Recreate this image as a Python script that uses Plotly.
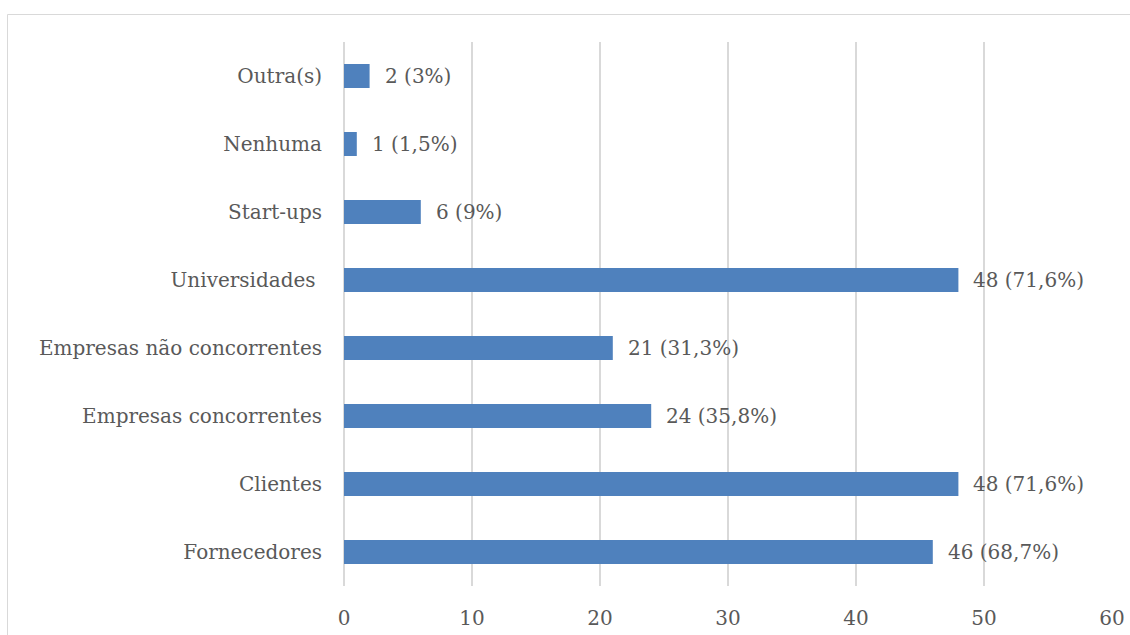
import plotly.graph_objects as go

# Survey answers: partners for cooperation (count of respondents)
categories = [
    "Fornecedores",
    "Clientes",
    "Empresas concorrentes",
    "Empresas não concorrentes",
    "Universidades\u00a0",
    "Start-ups",
    "Nenhuma",
    "Outra(s)",
]
counts = [46, 48, 24, 21, 48, 6, 1, 2]
percents = ["68,7%", "71,6%", "35,8%", "31,3%", "71,6%", "9%", "1,5%", "3%"]
x_ticks = [0, 10, 20, 30, 40, 50, 60]

FONT = "DejaVu Serif"
FSIZE = 20
TEXT = "#595959"
GRID = "#D9D9D9"
BAR = "#4F81BD"

W, H = 1130, 635
L, R, T, B = 344, 18, 42, 49
pw, ph = W - L - R, H - T - B

fig = go.Figure()
fig.add_trace(go.Bar(
    y=categories,
    x=counts,
    orientation="h",
    marker=dict(color=BAR, line=dict(width=0)),
    hoverinfo="x+y",
))

# value labels to the right of each bar
for cat, n, p in zip(categories, counts, percents):
    fig.add_annotation(
        x=n, y=cat, xref="x", yref="y",
        text=f"{n} ({p})",
        showarrow=False, xanchor="left", yanchor="middle",
        xshift=13,
        font=dict(family=FONT, size=FSIZE, color=TEXT),
    )

# light frame around the chart
def px_x(p):
    return (p - L) / pw

def px_y(p):
    return (H - B - p) / ph

fig.add_shape(
    type="rect", xref="paper", yref="paper",
    x0=px_x(7.5), x1=px_x(1150), y0=px_y(660), y1=px_y(14.5),
    line=dict(color=GRID, width=1), fillcolor="rgba(0,0,0,0)", layer="below",
)

fig.update_layout(
    width=W, height=H,
    margin=dict(l=L, r=R, t=T, b=B, pad=0, autoexpand=False),
    paper_bgcolor="white",
    plot_bgcolor="white",
    bargap=0.647,
    showlegend=False,
    font=dict(family=FONT, size=FSIZE, color=TEXT),
)
fig.update_xaxes(
    range=[0, 60],
    tickvals=x_ticks,
    ticktext=[str(v) for v in x_ticks],
    showgrid=True, gridcolor=GRID, gridwidth=1.5,
    zeroline=True, zerolinecolor=GRID, zerolinewidth=1.5,
    showline=False, ticks="",
    automargin=False,
    ticklabelstandoff=18,
    tickfont=dict(family=FONT, size=FSIZE, color=TEXT),
)
fig.update_yaxes(
    categoryorder="array", categoryarray=categories,
    range=[-0.5, 7.5],
    showgrid=False, zeroline=False, showline=False, ticks="",
    automargin=False,
    ticklabelstandoff=21,
    tickfont=dict(family=FONT, size=FSIZE, color=TEXT),
)

fig.write_html("out.html")
